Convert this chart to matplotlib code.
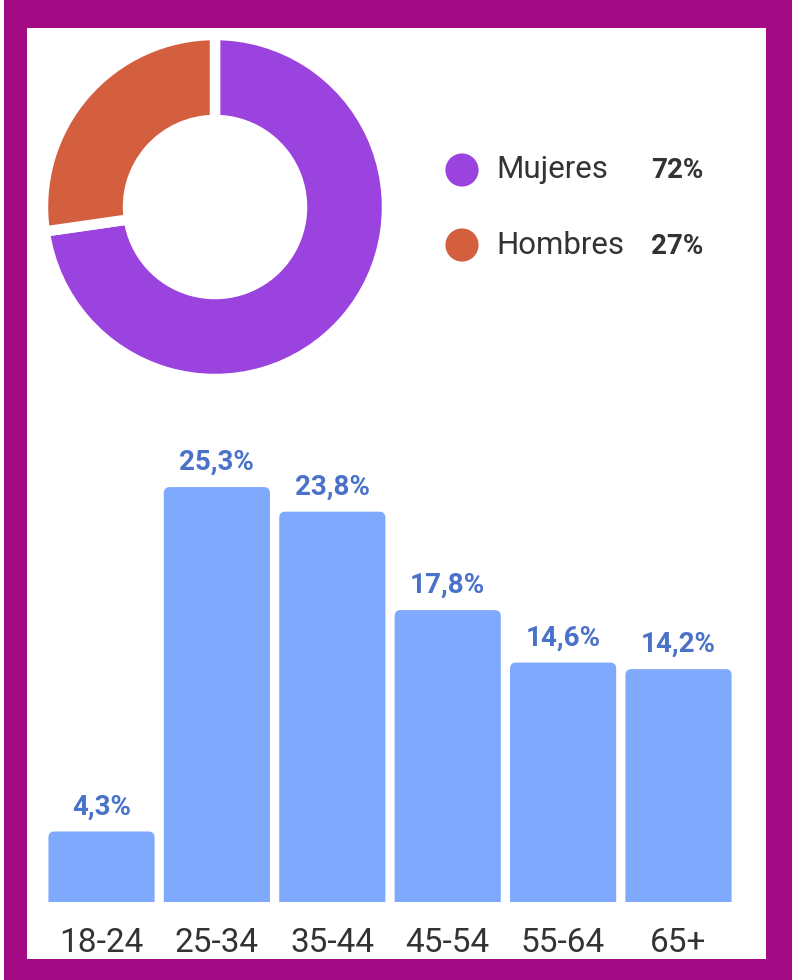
import matplotlib
matplotlib.use("Agg")
import matplotlib.pyplot as plt
from matplotlib.patches import FancyBboxPatch

# ---- data ----
gender_labels = ["Mujeres", "Hombres"]
gender_values = [72, 27]
gender_colors = ["#9b43df", "#d45f3f"]

age_groups = ["18-24", "25-34", "35-44", "45-54", "55-64", "65+"]
age_values = [4.3, 25.3, 23.8, 17.8, 14.6, 14.2]

W, H = 792, 980
plt.rcParams['font.family'] = ['Roboto', 'DejaVu Sans']

fig = plt.figure(figsize=(W / 100, H / 100), dpi=100)
fig.patch.set_facecolor("#a10a82")

def fr(x0, y0, x1, y1):
    # pixel box (top-left origin) -> figure fraction rect
    return [x0 / W, 1 - y1 / H, (x1 - x0) / W, (y1 - y0) / H]

def blank(rect, color, z=-10):
    a = fig.add_axes(rect, zorder=z)
    a.set_facecolor(color)
    a.set_xticks([]); a.set_yticks([])
    for s in a.spines.values():
        s.set_visible(False)
    return a

# thin white strip on the far left and the white panel
blank(fr(0, 0, 4, 980), "white")
blank(fr(27, 28, 766, 959), "white")

# ---- donut ----
axp = fig.add_axes(fr(43, 35, 387, 379))
axp.pie(gender_values, colors=gender_colors, startangle=90, counterclock=False,
        radius=1.0, wedgeprops=dict(width=0.494, edgecolor="white", linewidth=7.5))
axp.set_xlim(-1.0, 1.0)
axp.set_ylim(-1.0, 1.0)
axp.set_aspect("equal")
axp.axis("off")

# ---- legend ----
axl = fig.add_axes(fr(430, 140, 740, 280))
axl.set_xlim(430, 740)
axl.set_ylim(280, 140)
axl.axis("off")
for i, (lab, val, col) in enumerate(zip(gender_labels, gender_values, gender_colors)):
    y = 170 + i * 75
    axl.scatter([462], [y], s=570, color=col, edgecolors="none")
    axl.text(496, y, lab, fontsize=22.5, color="#333333", va="center", ha="left")
    axl.text(703, y + 1, f"{val}%", fontsize=20, fontweight="bold", color="#333333",
             va="center", ha="right")

# ---- bars ----
pitch = 115.4
x_left = 101.5 - pitch / 2
x_right = x_left + pitch * 6
px_per_unit = 16.4
top_px = 440
axb = fig.add_axes(fr(x_left, top_px, x_right, 902))
xs = range(len(age_groups))
bars = axb.bar(xs, age_values, width=0.92, color="#7fa9fc", edgecolor="none")
axb.set_xlim(-0.5, len(age_groups) - 0.5)
axb.set_ylim(0, (902 - top_px) / px_per_unit)
# rounded top corners
r_px = 6
for b in bars:
    b.set_visible(False)
    fb = FancyBboxPatch((b.get_x(), -2), b.get_width(), b.get_height() + 2,
                        boxstyle=f"round,pad=0,rounding_size={r_px / pitch}",
                        mutation_aspect=pitch / px_per_unit,
                        facecolor=b.get_facecolor(), edgecolor="none")
    axb.add_patch(fb)
for x, v in zip(xs, age_values):
    axb.annotate(f"{v:.1f}%".replace(".", ","), (x, v), xytext=(0, 8),
                 textcoords="offset points", ha="center", va="bottom",
                 fontsize=20, fontweight="bold", color="#4a72c8")
axb.set_xticks(list(xs))
axb.set_xticklabels(age_groups, fontsize=24, color="#333333")
axb.tick_params(axis="x", length=0, pad=18)
axb.set_yticks([])
for s in axb.spines.values():
    s.set_visible(False)
axb.patch.set_alpha(0)

fig.savefig("out.png", dpi=100, facecolor=fig.get_facecolor())
